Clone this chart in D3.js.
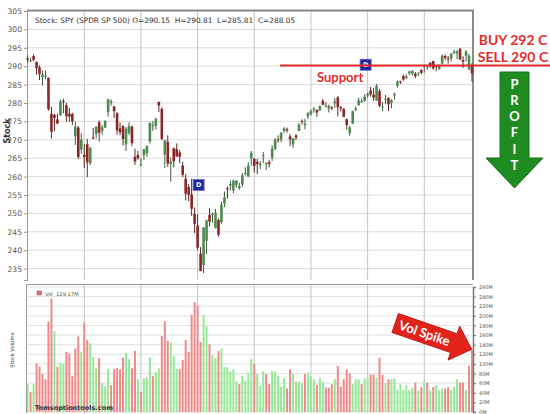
<!DOCTYPE html>
<html><head><meta charset="utf-8">
<script src="https://cdn.jsdelivr.net/npm/d3@7"></script>
<style>html,body{margin:0;padding:0;background:#fff;}svg{display:block;}</style>
</head><body>
<svg id="chart" width="550" height="414"></svg>
<script>
const prevClose = 290.72;
const openP = [292.11,291.56,292.74,291.18,289.69,287.05,287.38,286.84,277.08,276.77,
275.55,276.60,280.56,279.40,277.14,277.00,270.95,273.33,267.38,265.92,
268.80,263.67,270.65,271.60,274.75,272.44,273.32,277.56,280.11,279.03,
277.19,273.09,273.71,268.74,271.79,273.53,265.36,265.86,263.19,265.78,
266.35,269.60,273.76,273.81,280.28,278.37,265.92,269.46,263.37,267.66,
267.47,266.52,262.96,259.40,257.20,255.17,249.86,246.74,239.04,235.97,
242.57,249.58,249.56,245.98,248.23,247.59,252.69,256.82,257.56,256.26,
257.68,256.86,257.82,260.83,260.01,264.98,264.82,264.01,263.21,265.61,
263.39,263.92,265.10,267.51,270.15,270.11,272.44,272.79,270.94,268.75,
271.20,272.42,275.10,273.98,276.36,277.02,278.10,278.12,278.04,280.56,
279.18,278.43,278.79,279.94,281.55,278.89,278.38,275.61,271.77,274.38,
278.10,279.38,280.53,280.54,281.98,283.39,282.28,280.64,283.22,278.87,
280.99,281.40,280.00,282.07,284.70,285.99,287.32,286.81,288.11,287.93,
287.93,288.11,288.94,289.90,290.26,290.96,291.41,290.10,289.17,290.68,
292.79,292.12,292.10,293.51,293.51,294.72,291.68,292.82,289.25,290.15];
const highP = [292.93,292.36,293.21,291.24,290.27,288.87,288.86,286.91,278.90,277.09,
277.04,280.91,281.15,280.07,278.70,277.36,274.87,273.76,271.81,268.81,
270.25,268.12,273.23,273.73,275.23,274.01,275.30,281.10,280.97,279.25,
277.52,274.73,274.01,273.45,274.72,273.95,267.60,267.00,264.98,267.25,
268.20,274.72,275.13,276.03,280.40,278.85,269.97,271.22,265.16,267.87,
269.00,267.24,264.03,260.65,257.95,259.40,251.62,249.71,240.84,246.18,
248.29,251.40,250.19,251.21,248.57,253.11,255.95,257.31,258.91,259.16,
259.01,258.30,260.94,262.53,263.92,266.98,265.06,264.79,264.20,266.70,
263.83,264.55,268.52,270.47,271.20,272.03,273.44,273.34,271.55,270.27,
271.49,274.52,275.57,275.64,277.41,278.20,278.92,278.24,279.36,281.12,
280.20,279.60,279.17,281.37,281.87,279.11,278.60,275.71,273.74,277.91,
279.05,281.43,281.27,282.38,282.76,284.36,284.02,285.18,283.80,280.20,
282.19,281.55,281.05,282.84,286.16,286.03,287.76,287.73,288.76,288.78,
288.43,288.21,289.20,290.47,290.35,291.01,291.43,290.32,290.44,293.14,
293.16,292.78,293.49,294.45,294.34,294.95,292.70,294.34,293.31,290.81];
const lowP = [290.98,291.14,291.32,287.66,286.22,284.76,286.48,277.97,270.36,272.37,
274.30,276.58,277.20,274.97,274.87,274.00,268.61,264.70,266.23,262.29,
259.85,263.12,270.12,270.38,269.59,271.35,273.19,276.28,279.30,275.92,
271.38,271.21,268.46,266.92,271.37,268.32,263.23,264.56,262.98,264.54,
265.37,268.96,272.41,272.79,277.51,269.90,262.29,262.63,258.62,262.48,
265.37,263.66,259.85,253.53,253.28,249.35,244.65,239.98,234.27,233.76,
238.96,246.45,247.47,245.95,243.67,247.17,251.69,254.00,256.19,255.50,
257.03,256.41,257.21,260.31,259.96,263.00,261.06,260.66,262.08,263.66,
261.79,262.48,264.25,267.27,269.18,269.36,271.88,271.92,268.29,267.83,
269.93,272.34,274.17,272.87,275.64,276.58,277.35,276.24,277.85,279.44,
278.78,277.42,278.06,278.67,276.34,277.66,276.17,272.81,271.08,274.26,
277.87,279.30,279.99,280.34,281.45,281.74,280.59,280.61,278.92,277.83,
279.66,277.81,278.62,280.99,284.09,285.17,286.03,286.59,287.60,287.49,
286.71,287.33,287.80,288.26,289.08,289.50,288.99,288.66,289.07,290.42,
291.61,290.73,291.24,293.41,291.92,291.80,289.52,291.30,288.90,285.81];
const closeP = [291.73,291.56,291.72,289.44,287.82,287.82,287.40,278.30,272.17,275.95,
274.40,280.40,280.45,276.40,276.25,275.01,273.61,265.32,270.08,265.33,
263.86,267.77,270.63,273.51,271.89,273.39,275.12,280.99,280.50,277.76,
272.57,272.06,270.20,273.02,273.73,269.10,264.12,265.02,263.25,267.50,
268.40,274.58,273.98,275.65,279.30,270.25,269.84,263.57,264.07,264.13,
265.46,265.37,260.47,255.36,255.08,251.26,247.17,240.70,234.34,246.18,
248.07,247.75,249.92,250.18,244.21,252.39,254.38,256.77,257.97,258.88,
258.98,257.40,260.35,260.98,262.96,266.46,262.86,263.41,263.55,265.78,
263.76,263.41,267.58,269.93,270.06,271.96,273.10,272.74,270.14,270.47,
270.62,274.10,274.99,274.38,277.37,277.85,278.41,277.42,279.14,279.52,
279.32,279.20,278.68,280.42,278.84,278.52,276.24,274.01,273.41,277.76,
278.47,280.71,280.56,281.74,282.53,282.36,281.45,284.70,279.25,279.04,
281.12,279.65,280.71,282.48,285.83,285.97,286.42,287.18,288.57,288.79,
287.31,288.29,288.21,290.16,289.97,290.16,289.45,290.02,290.27,292.88,
292.23,292.05,293.41,293.87,294.02,291.81,291.18,294.03,292.82,288.05];
const volumeM = [58,42,58,101,94,79,68,188,236,168,
94,102,100,125,122,75,132,157,125,186,
150,143,114,92,112,60,53,89,56,89,
91,89,113,123,110,91,127,68,42,70,
72,114,75,82,91,158,189,148,145,117,
89,89,108,150,125,202,228,222,146,202,
178,141,118,112,127,132,94,93,84,89,
64,58,75,65,82,110,100,79,54,85,
79,58,85,84,75,53,70,49,89,79,
63,63,60,79,82,75,68,56,70,63,
51,51,58,68,96,53,68,89,80,58,
68,68,58,70,72,78,78,72,113,77,
60,68,68,70,46,58,46,56,46,50,
61,45,52,65,61,45,52,56,45,49,
49,52,46,52,68,61,61,46,96,129.17];
const priceTicks = [235,240,245,250,255,260,265,270,275,280,285,290,295,300,305];
const volTicks = [0,20,40,60,80,100,120,140,160,180,200,220,240,260];
const gridIdx = [19,38,57,76,95,114,133];
const dividendIdx = [57,113];
const supportPrice = 290.2;
const titleText = "Stock: SPY (SPDR SP 500) O=290.15  H=290.81  L=285.81  C=288.05";
const profitLetters = ["P","R","O","F","I","T"];

const svg = d3.select("#chart");
const N = closeP.length;
const L = 27, R = 473;
const x = d3.scalePoint().domain(d3.range(N)).range([27.6, 472]);
const y = d3.scaleLinear().domain([231.9, 305]).range([280, 11]);
const yv = d3.scaleLinear().domain([0, 260]).range([412, 287]);
const axisFont = "DejaVu Sans";

// ---------- price panel ----------
const pg = svg.append("g");
pg.selectAll("line.hg").data(priceTicks).enter().append("line")
  .attr("x1", L).attr("x2", R).attr("y1", d => y(d)).attr("y2", d => y(d))
  .attr("stroke", "#dadada").attr("stroke-width", 1);
pg.selectAll("line.vg").data(gridIdx).enter().append("line")
  .attr("x1", d => x(d)).attr("x2", d => x(d)).attr("y1", 10).attr("y2", 280)
  .attr("stroke", "#c4c4c4").attr("stroke-width", 1);

const yAxis = d3.axisLeft(y).tickValues(priceTicks).tickSize(3).tickFormat(d3.format("d"));
const ya = svg.append("g").attr("transform", `translate(${L},0)`).call(yAxis);
ya.select(".domain").attr("stroke", "#999");
ya.selectAll(".tick line").attr("stroke", "#999");
ya.selectAll("text").attr("font-family", axisFont).attr("font-size", 7.6).attr("fill", "#555").attr("dx", 1);

svg.append("line").attr("x1", L).attr("x2", R + 1).attr("y1", 10.5).attr("y2", 10.5).attr("stroke", "#8a8a8a").attr("stroke-width", 2);
svg.append("line").attr("x1", R).attr("x2", R).attr("y1", 10).attr("y2", 280).attr("stroke", "#8a8a8a").attr("stroke-width", 2);

// candles
const cg = svg.append("g");
const up = i => closeP[i] >= openP[i];
cg.selectAll("line.wick").data(d3.range(N)).enter().append("line")
  .attr("x1", i => x(i)).attr("x2", i => x(i))
  .attr("y1", i => y(highP[i])).attr("y2", i => y(lowP[i]))
  .attr("stroke", i => up(i) ? "#3c5e3c" : "#5a2a2a").attr("stroke-width", 1);
cg.selectAll("rect.body").data(d3.range(N)).enter().append("rect")
  .attr("x", i => x(i) - 1.3).attr("width", 2.6)
  .attr("y", i => y(Math.max(openP[i], closeP[i])))
  .attr("height", i => Math.max(1, Math.abs(y(openP[i]) - y(closeP[i]))))
  .attr("fill", i => up(i) ? "#4f8a4f" : "#8c2626");

// dividend markers
dividendIdx.forEach(i => {
  const cx = x(i) + 1, cy = y(highP[i]) - 29.5;
  svg.append("rect").attr("x", cx - 5.5).attr("y", cy - 5.5).attr("width", 11).attr("height", 11)
    .attr("fill", "#1f2a9a").attr("stroke", "#5b63c8").attr("stroke-width", 0.8);
  svg.append("text").attr("x", cx).attr("y", cy + 2.5).attr("text-anchor", "middle")
    .attr("font-family", axisFont).attr("font-weight", "bold").attr("font-size", 6.5).attr("fill", "#fff").text("D");
});

svg.append("text").attr("x", 35).attr("y", 23).attr("font-family", axisFont).attr("font-size", 7.4)
  .attr("fill", "#333").attr("xml:space", "preserve").text(titleText);

svg.append("text").attr("transform", "translate(10,131) rotate(-90)").attr("text-anchor", "middle")
  .attr("font-family", axisFont).attr("font-weight", "bold").attr("font-size", 8).attr("fill", "#333").text("Stock");

// support line + annotations
svg.append("line").attr("x1", 280).attr("x2", 550).attr("y1", y(supportPrice)).attr("y2", y(supportPrice))
  .attr("stroke", "#e32b2b").attr("stroke-width", 2);
svg.append("text").attr("x", 317).attr("y", 82).attr("font-family", "Lato").attr("font-weight", "bold")
  .attr("font-size", 13).attr("fill", "#e32b2b").text("Support");
svg.append("text").attr("x", 513).attr("y", 45).attr("text-anchor", "middle").attr("font-family", "Lato").attr("font-weight", "bold")
  .attr("font-size", 14).attr("fill", "#e32b2b").text("BUY 292 C");
svg.append("text").attr("x", 513).attr("y", 61.5).attr("text-anchor", "middle").attr("font-family", "Lato").attr("font-weight", "bold")
  .attr("font-size", 14).attr("fill", "#e32b2b").text("SELL 290 C");

svg.append("path").attr("d", "M500,72 L529,72 L529,158 L543,158 L514.5,188 L486,158 L500,158 Z")
  .attr("fill", "#1f8c22").attr("stroke", "#17701a").attr("stroke-width", 1);
svg.selectAll("text.pl").data(profitLetters).enter().append("text")
  .attr("x", 514.5).attr("y", (d, i) => 88.5 + i * 16.3).attr("text-anchor", "middle")
  .attr("font-family", "Lato").attr("font-weight", "bold").attr("font-size", 13).attr("fill", "#fff").text(d => d);

// ---------- volume panel ----------
const vg = svg.append("g");
vg.selectAll("line.hv").data(volTicks).enter().append("line")
  .attr("x1", L).attr("x2", R).attr("y1", d => yv(d)).attr("y2", d => yv(d))
  .attr("stroke", "#e2e2e2").attr("stroke-width", 1);
vg.selectAll("line.vv").data(gridIdx).enter().append("line")
  .attr("x1", d => x(d)).attr("x2", d => x(d)).attr("y1", 284).attr("y2", 413)
  .attr("stroke", "#c4c4c4").attr("stroke-width", 1);
svg.append("line").attr("x1", L).attr("x2", R).attr("y1", 284.5).attr("y2", 284.5).attr("stroke", "#9a9a9a").attr("stroke-width", 1);
svg.append("line").attr("x1", L - 0.5).attr("x2", L - 0.5).attr("y1", 284).attr("y2", 413).attr("stroke", "#9a9a9a");

const vUp = i => closeP[i] > (i === 0 ? prevClose : closeP[i - 1]);
vg.selectAll("rect.v").data(d3.range(N)).enter().append("rect")
  .attr("x", i => x(i) - 1).attr("width", 2)
  .attr("y", i => yv(volumeM[i])).attr("height", i => yv(0) - yv(volumeM[i]))
  .attr("fill", i => vUp(i) ? "#96e896" : "#f08a8a");

const vAxis = d3.axisRight(yv).tickValues(volTicks).tickSize(3).tickFormat(d => d + "M");
const va = svg.append("g").attr("transform", `translate(${R},0)`).call(vAxis);
va.select(".domain").attr("stroke", "#777").attr("stroke-width", 1.5);
va.selectAll(".tick line").attr("stroke", "#777");
va.selectAll("text").attr("font-family", axisFont).attr("font-size", 5).attr("fill", "#555");

svg.append("rect").attr("x", 37).attr("y", 291).attr("width", 4.5).attr("height", 4).attr("fill", "#e07070").attr("stroke", "#a04040").attr("stroke-width", 0.5);
svg.append("text").attr("x", 45).attr("y", 295.5).attr("font-family", axisFont).attr("font-size", 5.2).attr("fill", "#555")
  .attr("xml:space", "preserve").text("Vol  " + volumeM[N - 1].toFixed(2) + "M");

svg.append("text").attr("transform", "translate(14,350) rotate(-90)").attr("text-anchor", "middle")
  .attr("font-family", axisFont).attr("font-size", 5.2).attr("fill", "#333").text("Stock Volume");

svg.append("text").attr("x", 35).attr("y", 410).attr("font-family", axisFont).attr("font-weight", "bold")
  .attr("font-size", 6.5).attr("fill", "#333").text("Tomsoptiontools.com");

const sg = svg.append("g").attr("transform", "translate(433,336) rotate(19)");
sg.append("path").attr("d", "M-40,-10 L22,-10 L22,-18 L41,0 L22,18 L22,10 L-40,10 Z")
  .attr("fill", "#e3221c").attr("stroke", "#b01510").attr("stroke-width", 0.8);
sg.append("text").attr("x", -9).attr("y", 4.8).attr("text-anchor", "middle").attr("font-family", "Lato")
  .attr("font-weight", "bold").attr("font-size", 13).attr("fill", "#fff").text("Vol Spike");
</script>
</body></html>
